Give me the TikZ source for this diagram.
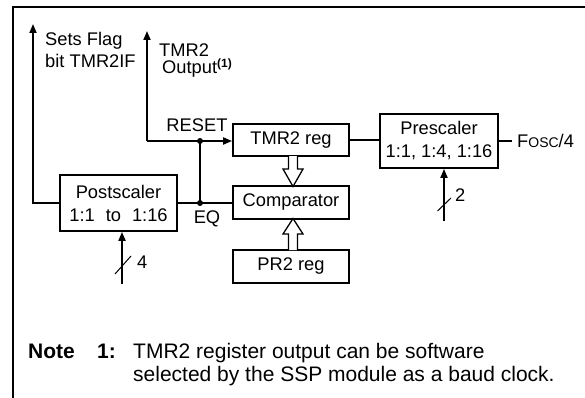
\documentclass[tikz,border=0pt]{standalone}
\usepackage{fontspec}
\setmainfont{Liberation Sans}
\usetikzlibrary{arrows.meta}
\begin{document}
\begin{tikzpicture}[x=1pt,y=-1pt,
  every node/.style={font=\fontsize{18.3}{21}\selectfont, inner sep=0pt},
  blk/.style={draw, line width=1.8pt, minimum width=116pt, align=center},
  wire/.style={line width=1.8pt},
  arr/.style={wire, -{Triangle[length=9pt,width=7pt]}},
  hollow/.style={draw, line width=1.3pt, fill=white, line join=miter},
  lbl/.style={anchor=west, align=left},
  notef/.style={font=\fontsize{21}{24}\selectfont},
  dot/.style={circle, fill, minimum size=6pt}]
\useasboundingbox (0,0) rectangle (585,398);
% frame
\draw[line width=2.4pt] (13,400) -- (13,7) -- (590,7);
% blocks
\node[blk, minimum height=32pt] (tmr) at (291,140) {TMR2 reg};
\node[blk, minimum height=33pt] (comp) at (291,202.5) {Comparator};
\node[blk, minimum height=33pt] (pr2) at (291,266.5) {PR2 reg};
\node[blk, minimum width=118pt, minimum height=54pt, align=center] (pre) at (439,141)
  {Prescaler\\[2pt]1:1, 1:4, 1:16};
\node[blk, minimum width=117pt, minimum height=56pt] (post) at (118.5,203)
  {Postscaler\\[2pt]1:1\hspace{0.6em}to\hspace{0.6em}1:16};
% prescaler
\draw[wire] (tmr.east) -- (pre.west |- tmr.east);
\coordinate (fo) at (512,141);
\draw[wire] (pre.east) -- (fo);
\node[lbl] (fosc) at (517,141) {F{\fontsize{14}{16}\selectfont OSC}/4};
\coordinate (prein) at (444,221);
\draw[arr] (prein) -- (pre.south -| prein);
\coordinate (s2a) at (437.5,211);
\coordinate (s2b) at (451,198);
\draw[line width=1pt] (s2a) -- (s2b);
\node[lbl] (two) at (455,195) {2};
% postscaler input
\coordinate (postin) at (122,284);
\draw[arr] (postin) -- (post.south -| postin);
\coordinate (s4a) at (115,274);
\coordinate (s4b) at (131,256);
\draw[line width=1pt] (s4a) -- (s4b);
\node[lbl] (four) at (137,262) {4};
% EQ
\coordinate (eqj) at (200,203);
\draw[wire] (post.east) -- (comp.west |- post.east);
\node[dot] (d1) at (eqj) {};
\node (eq) at (207,219) {EQ};
% reset
\coordinate (rj) at (200,141);
\coordinate (rl) at (147,141);
\coordinate (rtop) at (147,31);
\draw[wire] (eqj) -- (rj);
\node[dot] (d2) at (rj) {};
\draw[arr] (rl) -- (tmr.west |- rl);
\draw[arr] (rl) -- (rtop);
\node (reset) at (197,125) {RESET};
\node[anchor=base west, text depth=0pt] (out1) at (159,56.5) {TMR2};
\node[anchor=base west] (out2) at (162,74) {Output\smash{\textsuperscript{\fontsize{12}{13}\selectfont\bfseries(1)}}};
% flag
\coordinate (fc) at (33,203);
\coordinate (ftop) at (33,24);
\draw[arr] (post.west) -- (fc) -- (ftop);
\node[anchor=base west] (flag1) at (45,46) {Sets Flag};
\node[anchor=base west] (flag2) at (45,68) {bit TMR2IF};
% hollow arrows
\draw[hollow] (288.5,156) -- (288.5,169) -- (283,169) -- (293,186.5) -- (303,169) -- (297.5,169) -- (297.5,156);
\draw[hollow] (288.5,250) -- (288.5,234) -- (283,234) -- (293,218.5) -- (303,234) -- (297.5,234) -- (297.5,250);
% note
\node[notef, anchor=base west] (note) at (28,358) {\bfseries Note};
\node[notef, anchor=base west] (n1) at (97,358) {\bfseries 1:};
\node[notef, anchor=base west] (nt1) at (133,358) {TMR2 register output can be software};
\node[notef, anchor=base west] (nt2) at (133,381) {selected by the SSP module as a baud clock.};
\end{tikzpicture}
\end{document}
